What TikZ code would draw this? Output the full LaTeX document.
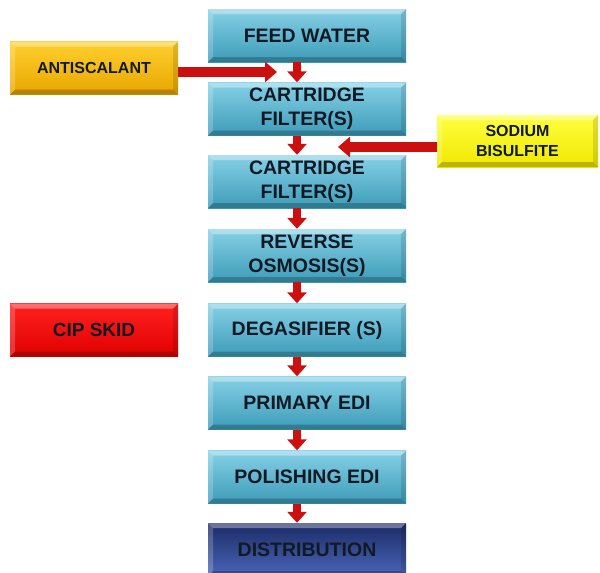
\documentclass[tikz,border=0pt]{standalone}
\usepackage{fontspec}
\setmainfont{Liberation Sans}
\usetikzlibrary{arrows.meta}
\definecolor{tealtop}{HTML}{86D0E6}
\definecolor{tealbot}{HTML}{3D9CB8}
\definecolor{navytop}{HTML}{1B2B66}
\definecolor{navybot}{HTML}{4A66B8}
\definecolor{goldtop}{HTML}{FFD02E}
\definecolor{goldbot}{HTML}{E8A600}
\definecolor{yeltop}{HTML}{FFFF40}
\definecolor{yelbot}{HTML}{F0E800}
\definecolor{redtop}{HTML}{FF2020}
\definecolor{redbot}{HTML}{E00000}
\definecolor{arrowred}{HTML}{CC1010}
\definecolor{textc}{HTML}{111A24}
\tikzset{
  bevel/.style={path picture={
    \fill[white,opacity=0.35] (path picture bounding box.north west) -- (path picture bounding box.north east)
      -- ([shift={(-5pt,-5pt)}]path picture bounding box.north east) -- ([shift={(5pt,-5pt)}]path picture bounding box.north west) -- cycle;
    \fill[white,opacity=0.2] (path picture bounding box.north west) -- (path picture bounding box.south west)
      -- ([shift={(5pt,5pt)}]path picture bounding box.south west) -- ([shift={(5pt,-5pt)}]path picture bounding box.north west) -- cycle;
    \fill[black,opacity=0.22] (path picture bounding box.south west) -- (path picture bounding box.south east)
      -- ([shift={(-5pt,5pt)}]path picture bounding box.south east) -- ([shift={(5pt,5pt)}]path picture bounding box.south west) -- cycle;
    \fill[black,opacity=0.12] (path picture bounding box.north east) -- (path picture bounding box.south east)
      -- ([shift={(-5pt,5pt)}]path picture bounding box.south east) -- ([shift={(-5pt,-5pt)}]path picture bounding box.north east) -- cycle;
  }},
  basebox/.style={inner sep=0pt, align=center, text=textc, bevel},
  mainbox/.style={basebox, minimum width=198pt, minimum height=53pt,
    top color=tealtop, bottom color=tealbot,
    font=\fontsize{19.5}{24}\selectfont\bfseries},
  distbox/.style={mainbox, top color=navytop, bottom color=navybot},
  sidebox/.style={basebox, minimum width=168pt, minimum height=53pt,
    font=\fontsize{16}{20}\selectfont\bfseries},
  downarrow/.style={arrowred, line width=8pt, -{Triangle[width=19pt,length=11pt]}},
  sidearrow/.style={arrowred, line width=10pt, -{Triangle[width=20pt,length=12pt]}},
}
\begin{document}
\begin{tikzpicture}[x=1pt,y=-1pt]
\useasboundingbox (0,0) rectangle (600,573);
\clip (0,0) rectangle (600,573);
\fill[white] (0,0) rectangle (600,573);
\node[mainbox] (feed) at (307,35.5) {FEED WATER};
\node[mainbox] (c1) at (307,109) {CARTRIDGE\\FILTER(S)};
\node[mainbox] (c2) at (307,181.5) {CARTRIDGE\\FILTER(S)};
\node[mainbox] (ro) at (307,255.5) {REVERSE\\OSMOSIS(S)};
\node[mainbox] (deg) at (307,330) {DEGASIFIER (S)};
\node[mainbox] (prim) at (307,403) {PRIMARY EDI};
\node[mainbox] (pol) at (307,477) {POLISHING EDI};
\node[distbox] (dist) at (307,549.5) {DISTRIBUTION};
\node[sidebox, top color=goldtop, bottom color=goldbot] (anti) at (94,68) {ANTISCALANT};
\node[sidebox, minimum width=161pt, minimum height=52pt, top color=yeltop, bottom color=yelbot] (sod) at (517.5,141) {SODIUM\\BISULFITE};
\node[sidebox, font=\fontsize{19}{23}\selectfont\bfseries, top color=redtop, bottom color=redbot] (cip) at (94,330) {CIP SKID};
\foreach \a/\b in {feed/c1,c1/c2,c2/ro,ro/deg,deg/prim,prim/pol,pol/dist}
  \draw[downarrow] ([xshift=-10pt]\a.south) -- ([xshift=-10pt]\b.north);
\coordinate (antitip) at (277,72);
\coordinate (sodtip) at (338,147);
\draw[sidearrow] ([yshift=-4pt]anti.east) -- (antitip);
\draw[sidearrow] ([yshift=-6pt]sod.west) -- (sodtip);
\end{tikzpicture}
\end{document}
